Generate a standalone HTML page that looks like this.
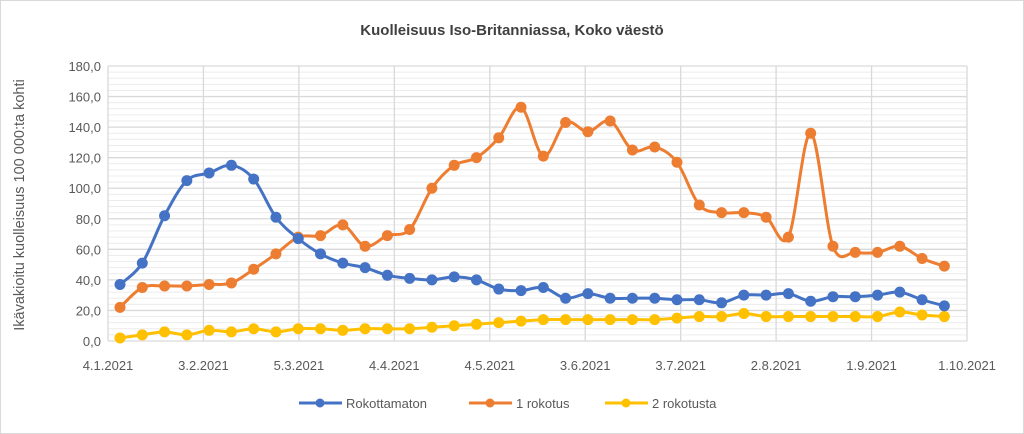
<!DOCTYPE html>
<html><head><meta charset="utf-8"><style>
html,body{margin:0;padding:0;background:#fff}
svg{display:block}
text{font-family:"Liberation Sans",sans-serif;fill:#595959}
</style></head><body>
<svg id="s" width="1024" height="434" viewBox="0 0 1024 434" xmlns="http://www.w3.org/2000/svg">
<rect x="0.5" y="0.5" width="1023" height="433" fill="#fff" stroke="#d9d9d9"/>
<text x="512" y="35" text-anchor="middle" font-size="15" font-weight="bold" style="fill:#404040">Kuolleisuus Iso-Britanniassa, Koko väestö</text>
<g id="grid"></g>
<text transform="translate(24,205) rotate(-90)" text-anchor="middle" font-size="14.5">Ikävakioitu kuolleisuus 100 000:ta kohti</text>
<g id="series"></g>
<g font-size="13">
<line x1="299" y1="403" x2="342" y2="403" stroke="#4472c4" stroke-width="3"/><circle cx="320" cy="403" r="4.5" fill="#4472c4"/>
<text x="346" y="408">Rokottamaton</text>
<line x1="469" y1="403" x2="512" y2="403" stroke="#ed7d31" stroke-width="3"/><circle cx="490" cy="403" r="4.5" fill="#ed7d31"/>
<text x="516" y="408">1 rokotus</text>
<line x1="605" y1="403" x2="648" y2="403" stroke="#ffc000" stroke-width="3"/><circle cx="626" cy="403" r="4.5" fill="#ffc000"/>
<text x="652" y="408">2 rokotusta</text>
</g>
</svg>
<script>
var NS="http://www.w3.org/2000/svg";
function el(p,t,a,txt){var e=document.createElementNS(NS,t);for(var k in a)e.setAttribute(k,a[k]);if(txt!==undefined)e.textContent=txt;p.appendChild(e);return e;}
var L=108,R=967,T=66,B=341;
function Y(v){return B-(B-T)*v/180;}
var g=document.getElementById('grid');
for(var v=0;v<=180;v+=4){if(v%20)el(g,'line',{x1:L,x2:R,y1:Y(v),y2:Y(v),stroke:'#ececec','stroke-width':1});}
for(var v=0;v<=180;v+=20){el(g,'line',{x1:L,x2:R,y1:Y(v),y2:Y(v),stroke:'#d9d9d9','stroke-width':1.3});
el(g,'text',{x:101,y:Y(v)+5,'text-anchor':'end','font-size':'13'},v.toFixed(1).replace('.',','));}
var pd=(R-L)/270;
var labs=['4.1.2021','3.2.2021','5.3.2021','4.4.2021','4.5.2021','3.6.2021','3.7.2021','2.8.2021','1.9.2021','1.10.2021'];
labs.forEach(function(s,i){var x=L+i*30*pd;el(g,'line',{x1:x,x2:x,y1:T,y2:B,stroke:'#d9d9d9','stroke-width':1.3});
el(g,'text',{x:x,y:370,'text-anchor':'middle','font-size':'13'},s);});
var blue=[37,51,82,105,110,115,106,81,67,57,51,48,43,41,40,42,40,34,33,35,28,31,28,28,28,27,27,25,30,30,31,26,29,29,30,32,27,23];
var orange=[22,35,36,36,37,38,47,57,68,69,76,62,69,73,100,115,120,133,153,121,143,137,144,125,127,117,89,84,84,81,68,136,62,58,58,62,54,49];
var yel=[2,4,6,4,7,6,8,6,8,8,7,8,8,8,9,10,11,12,13,14,14,14,14,14,14,15,16,16,18,16,16,16,16,16,16,19,17,16];
var sg=document.getElementById('series');
function draw(d,c){var p=d.map(function(v,i){return [120+i*22.28,Y(v)];});
var s='M'+p[0][0]+','+p[0][1];
for(var i=0;i<p.length-1;i++){var p0=p[Math.max(0,i-1)],p1=p[i],p2=p[i+1],p3=p[Math.min(p.length-1,i+2)],t=1/6;
s+=' C'+(p1[0]+(p2[0]-p0[0])*t)+','+(p1[1]+(p2[1]-p0[1])*t)+' '+(p2[0]-(p3[0]-p1[0])*t)+','+(p2[1]-(p3[1]-p1[1])*t)+' '+p2[0]+','+p2[1];}
el(sg,'path',{d:s,fill:'none',stroke:c,'stroke-width':3});
p.forEach(function(q){el(sg,'circle',{cx:q[0],cy:q[1],r:5.5,fill:c});});}
draw(yel,'#ffc000');draw(orange,'#ed7d31');draw(blue,'#4472c4');
</script>
</body></html>
